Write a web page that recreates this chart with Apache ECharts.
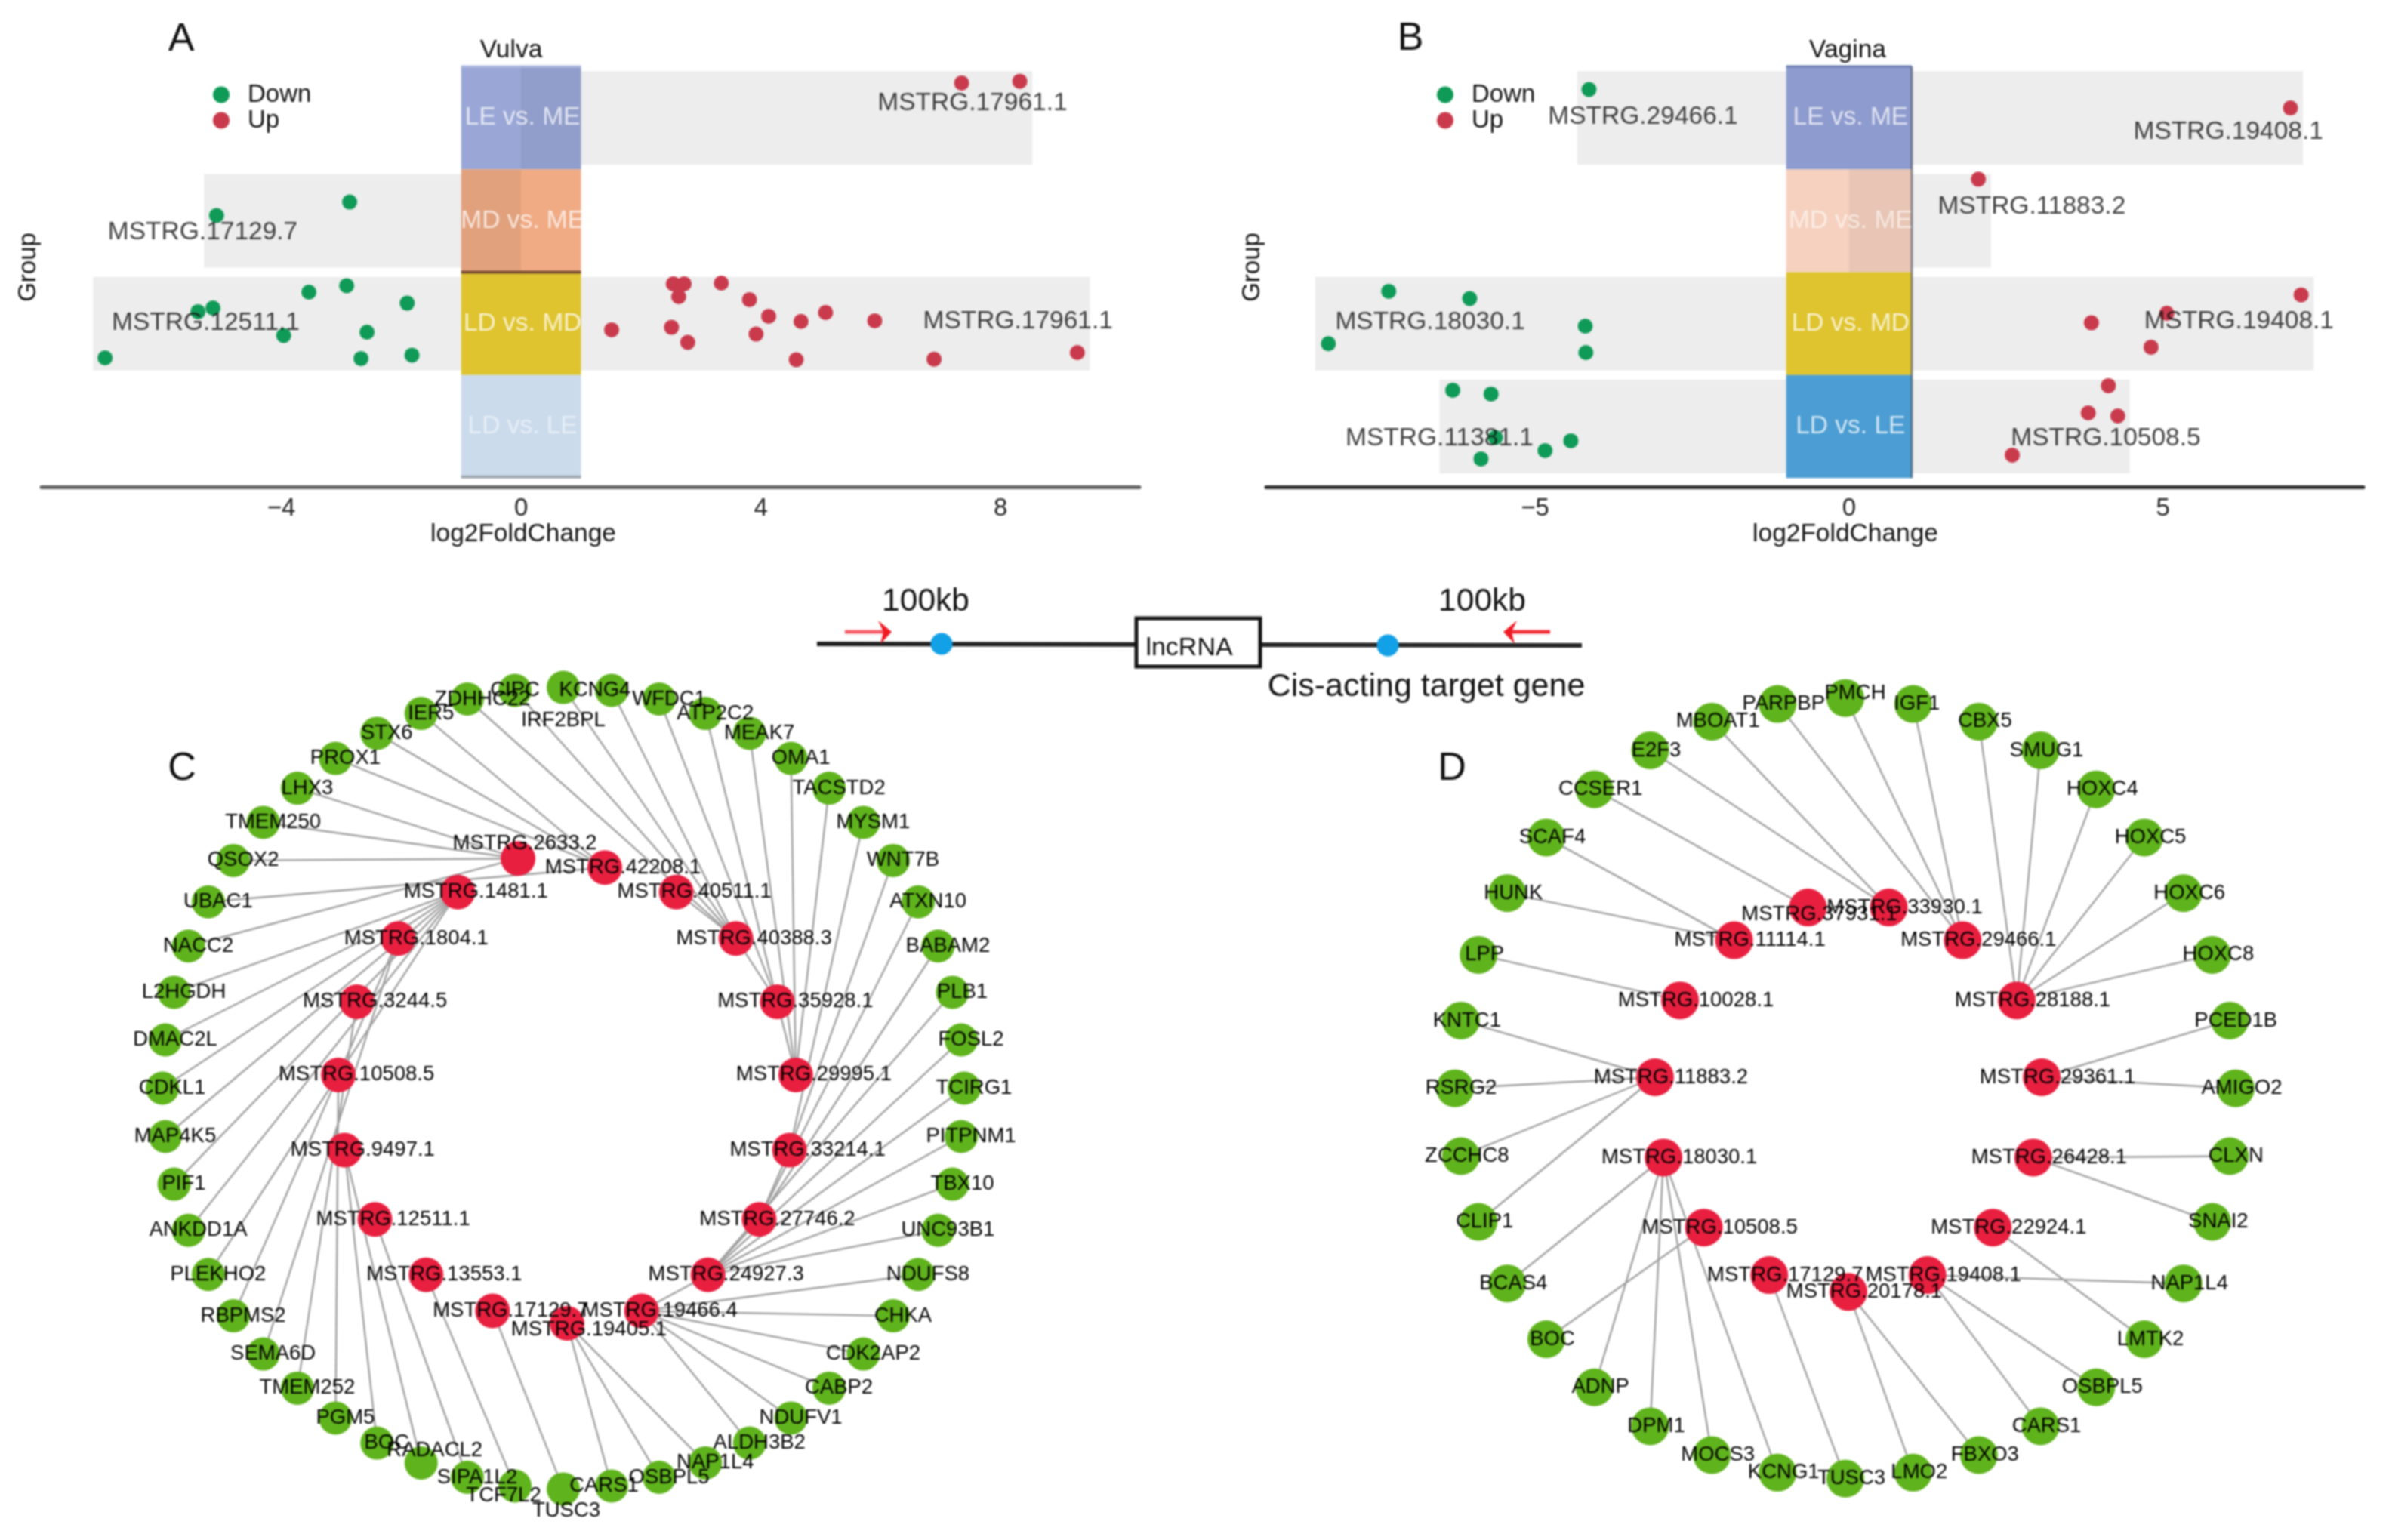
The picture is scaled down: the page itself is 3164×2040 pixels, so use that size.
<!DOCTYPE html>
<html><head><meta charset="utf-8">
<style>html,body{margin:0;padding:0;background:#fff}#c{width:3164px;height:2040px;filter:blur(0.9px)}</style>
<script src="https://cdn.jsdelivr.net/npm/echarts@6/dist/echarts.min.js"></script>
</head><body><div id="c"></div>
<script>
// ---------- volcano-style strip panels ----------
const groups = ['LE vs. ME','MD vs. ME','LD vs. MD','LD vs. LE'];
const bandLow = -1, bandHigh = 1;
// [log2FoldChange, jittered group position]
const vulvaDown = [[-5.08,.949],[-2.86,.818],[-6.94,2.332],[-5.39,1.884],[-5.14,1.848],[-3.96,2.116],[-3.54,1.694],[-2.91,1.631],[-2.57,2.083],[-2.67,2.339],[-1.90,1.801],[-1.82,2.306]];
const vulvaUp = [[7.35,-.339],[8.32,-.356],[1.51,2.06],[2.51,2.036],[2.54,1.613],[2.72,1.613],[2.63,1.738],[2.78,2.182],[3.34,1.606],[3.81,1.767],[3.92,2.102],[4.13,1.928],[4.59,2.351],[4.67,1.978],[5.08,1.892],[5.90,1.972],[6.89,2.345],[9.28,2.281]];
const vaginaDown = [[-4.14,-.276],[-7.33,1.686],[-6.04,1.756],[-4.20,2.024],[-8.29,2.195],[-4.19,2.281],[-6.31,2.647],[-5.70,2.684],[-5.63,3.106],[-4.43,3.139],[-4.84,3.234],[-5.86,3.315]];
const vaginaUp = [[7.03,-.096],[2.06,.596],[7.20,1.721],[5.06,1.899],[3.86,1.992],[4.81,2.229],[4.13,2.603],[3.81,2.868],[4.28,2.897],[2.60,3.278]];
// [low, high, row]
const vulvaRange = [[0,8.53,0],[-5.29,0,1],[-7.14,9.49,2]];
const vaginaRange = [[-4.33,7.23,0],[0,2.26,1],[-8.5,7.4,2],[-6.52,4.47,3]];
// [log2FoldChange, position, name]
const vulvaGenes = [[7.53,-.14,'MSTRG.17961.1'],[-5.31,1.115,'MSTRG.17129.7'],[-5.26,1.995,'MSTRG.12511.1'],[8.29,1.98,'MSTRG.17961.1']];
const vaginaGenes = [[-3.28,-.012,'MSTRG.29466.1'],[6.04,.137,'MSTRG.19408.1'],[2.91,.864,'MSTRG.11883.2'],[-6.67,1.986,'MSTRG.18030.1'],[6.21,1.978,'MSTRG.19408.1'],[-6.52,3.114,'MSTRG.11381.1'],[4.09,3.114,'MSTRG.10508.5']];
const vulvaBandColors = ['#9aa7d6','#f0ab85','#ecd032','#cbdbec'];
const vaginaBandColors = ['#97a4da','#f6d1bf','#ecd032','#50a7e0'];
const vulvaTextAlpha = [.9,.9,.95,.65];
const vaginaTextAlpha = [.9,.75,.95,.92];
const vulvaTicks = [-4,0,4,8];
const vaginaTicks = [-5,0,5];

// ---------- networks ----------
const cGenes = ['IRF2BPL','KCNG4','WFDC1','ATP2C2','MEAK7','OMA1','TACSTD2','MYSM1','WNT7B','ATXN10','BABAM2','PLB1','FOSL2','TCIRG1','PITPNM1','TBX10','UNC93B1','NDUFS8','CHKA','CDK2AP2','CABP2','NDUFV1','ALDH3B2','NAP1L4','OSBPL5','CARS1','TUSC3','TCF7L2','SIPA1L2','RADACL2','BOC','PGM5','TMEM252','SEMA6D','RBPMS2','PLEKHO2','ANKDD1A','PIF1','MAP4K5','CDKL1','DMAC2L','L2HGDH','NACC2','UBAC1','QSOX2','TMEM250','LHX3','PROX1','STX6','IER5','ZDHHC22','CIPC'];
const cLnc = ['MSTRG.19405.1','MSTRG.17129.7','MSTRG.13553.1','MSTRG.12511.1','MSTRG.9497.1','MSTRG.10508.5','MSTRG.3244.5','MSTRG.1804.1','MSTRG.1481.1','MSTRG.2633.2','MSTRG.42208.1','MSTRG.40511.1','MSTRG.40388.3','MSTRG.35928.1','MSTRG.29995.1','MSTRG.33214.1','MSTRG.27746.2','MSTRG.24927.3','MSTRG.19466.4'];
const cTargets = {
 'MSTRG.2633.2':['QSOX2','TMEM250','LHX3','NACC2'],
 'MSTRG.42208.1':['UBAC1','PROX1','STX6','IER5'],
 'MSTRG.40511.1':['MSTRG.40388.3'],
 'MSTRG.40388.3':['ZDHHC22','CIPC','IRF2BPL','KCNG4','MSTRG.35928.1'],
 'MSTRG.35928.1':['WFDC1','ATP2C2','MSTRG.29995.1'],
 'MSTRG.29995.1':['MEAK7','OMA1','TACSTD2'],
 'MSTRG.33214.1':['MYSM1','WNT7B','MSTRG.27746.2'],
 'MSTRG.27746.2':['ATXN10','BABAM2','MSTRG.24927.3'],
 'MSTRG.24927.3':['PLB1','FOSL2','TCIRG1','PITPNM1','TBX10','UNC93B1','MSTRG.19466.4'],
 'MSTRG.19466.4':['NDUFS8','CHKA','CDK2AP2','CABP2','NDUFV1','ALDH3B2'],
 'MSTRG.19405.1':['NAP1L4','OSBPL5','CARS1'],
 'MSTRG.17129.7':['TUSC3'],
 'MSTRG.13553.1':['TCF7L2'],
 'MSTRG.12511.1':['SIPA1L2'],
 'MSTRG.9497.1':['RADACL2','BOC'],
 'MSTRG.10508.5':['PGM5'],
 'MSTRG.3244.5':['TMEM252'],
 'MSTRG.1804.1':['RBPMS2','SEMA6D'],
 'MSTRG.1481.1':['L2HGDH','DMAC2L','CDKL1','MAP4K5','PIF1','ANKDD1A','PLEKHO2']
};
const dGenes = ['PMCH','IGF1','CBX5','SMUG1','HOXC4','HOXC5','HOXC6','HOXC8','PCED1B','AMIGO2','CLXN','SNAI2','NAP1L4','LMTK2','OSBPL5','CARS1','FBXO3','LMO2','TUSC3','KCNG1','MOCS3','DPM1','ADNP','BOC','BCAS4','CLIP1','ZCCHC8','RSRG2','KNTC1','LPP','HUNK','SCAF4','CCSER1','E2F3','MBOAT1','PARPBP'];
const dLnc = ['MSTRG.20178.1','MSTRG.17129.7','MSTRG.10508.5','MSTRG.18030.1','MSTRG.11883.2','MSTRG.10028.1','MSTRG.11114.1','MSTRG.37931.1','MSTRG.33930.1','MSTRG.29466.1','MSTRG.28188.1','MSTRG.29361.1','MSTRG.26428.1','MSTRG.22924.1','MSTRG.19408.1'];
const dTargets = {
 'MSTRG.29466.1':['PARPBP','PMCH','IGF1'],
 'MSTRG.33930.1':['MBOAT1','E2F3'],
 'MSTRG.37931.1':['CCSER1'],
 'MSTRG.11114.1':['SCAF4','HUNK'],
 'MSTRG.10028.1':['LPP'],
 'MSTRG.11883.2':['KNTC1','RSRG2','ZCCHC8','CLIP1'],
 'MSTRG.18030.1':['BCAS4','ADNP','DPM1','MOCS3','KCNG1'],
 'MSTRG.10508.5':['BOC'],
 'MSTRG.17129.7':['TUSC3'],
 'MSTRG.20178.1':['LMO2','FBXO3'],
 'MSTRG.19408.1':['CARS1','OSBPL5','NAP1L4'],
 'MSTRG.22924.1':['LMTK2'],
 'MSTRG.26428.1':['CLXN','SNAI2'],
 'MSTRG.29361.1':['AMIGO2','PCED1B'],
 'MSTRG.28188.1':['CBX5','SMUG1','HOXC4','HOXC5','HOXC6','HOXC8']
};

// ---------- styling / layout only ----------
const FONT = '"Liberation Sans", Arial, sans-serif';
const GREEN = '#0f9a57', RED = '#c93a4c', NODE_G = '#5fb31c', NODE_R = '#e81f3f';
const cLabelNudge = {IRF2BPL:[-13,44],TUSC3:[-9,29],KCNG4:[-35,0],RADACL2:[5,-16],TCF7L2:[-28,13],CARS1:[-23,0],ZDHHC22:[7,0],'MSTRG.2633.2':[-15,-20],'MSTRG.19405.1':[5,8],CIPC:[-13,0]};
const dLabelNudge = {PMCH:[5,-6],'MSTRG.37931.1':[-6,9],IGF1:[-3,0]};

function band(gridIndex, colors){
  return {type:'custom', xAxisIndex:gridIndex, yAxisIndex:gridIndex, z:1, silent:true, clip:false,
    data:groups.map((g,i)=>[bandLow,bandHigh,i]),
    renderItem(p,api){
      const a=api.coord([api.value(0),api.value(2)-.5]), b=api.coord([api.value(1),api.value(2)+.5]);
      return {type:'rect',shape:{x:a[0],y:a[1],width:b[0]-a[0],height:b[1]-a[1]},style:{fill:colors[p.dataIndex]}};
    }};
}
// grey row extent: thin row outside the central band, full row height over it
function range(gridIndex,data){
  return {type:'custom', xAxisIndex:gridIndex, yAxisIndex:gridIndex, z:2, silent:true, clip:false, data,
    renderItem(p,api){
      const lo=api.value(0), hi=api.value(1), row=api.value(2), kids=[];
      const add=(x0,x1,h,al)=>{ if(x1<=x0) return;
        const a=api.coord([x0,row-h]), b=api.coord([x1,row+h]);
        kids.push({type:'rect',shape:{x:a[0],y:a[1],width:b[0]-a[0],height:b[1]-a[1]},style:{fill:'rgba(0,0,0,'+al+')'}});};
      add(lo,Math.min(hi,bandLow),.455,.07);
      add(Math.max(lo,bandLow),Math.min(hi,bandHigh),.5,.055);
      add(Math.max(lo,bandHigh),hi,.455,.07);
      return {type:'group',children:kids};
    }};
}
// thin seams on the central band: [x0,y0,x1,y1,colour,width]
function seams(gridIndex,data){
  return {type:'custom', xAxisIndex:gridIndex, yAxisIndex:gridIndex, z:2, silent:true, clip:false, data:data.map((d,i)=>[d[0],d[1],d[2],d[3],i]),
    renderItem(p,api){
      const a=api.coord([api.value(0),api.value(1)]), b=api.coord([api.value(2),api.value(3)]), d=data[p.dataIndex];
      return {type:'line',shape:{x1:a[0],y1:a[1],x2:b[0],y2:b[1]},style:{stroke:d[4],lineWidth:d[5]}};
    }};
}
function dots(gridIndex,name,color,data){
  return {type:'scatter',name,xAxisIndex:gridIndex,yAxisIndex:gridIndex,z:3,silent:true,symbolSize:20,itemStyle:{color,opacity:1},data};
}
function texts(gridIndex,data,color,z){
  return {type:'scatter',xAxisIndex:gridIndex,yAxisIndex:gridIndex,z:z||4,silent:true,symbolSize:1,itemStyle:{color:'transparent'},data,
    label:{show:true,position:'inside',formatter:p=>p.value[2],color,fontFamily:FONT,fontSize:33.5}};
}
function bandTexts(gridIndex,alpha){
  return texts(gridIndex,groups.map((g,i)=>({value:[0,i,g],label:{color:'rgba(255,255,255,'+alpha[i]+')',offset:[2,0]}})),'#fff');
}
function ring(names,r,cx,cy,start,isLnc,nudge,size,offset){
  return names.map((name,i)=>{
    const t=(start+i*360/names.length)*Math.PI/180;
    const n=nudge[name]||[0,0];
    const pos=(name==='MSTRG.2633.2')?[-.028,.0226]:[0,0];
    return {name,value:[cx+r*Math.sin(t)+pos[0],cy+r*Math.cos(t)+pos[1]],symbolSize:size,
      itemStyle:{color:isLnc?NODE_R:NODE_G},
      label:{offset:[offset[0]+n[0],offset[1]+n[1]]}};
  });
}
function network(idx,genes,lnc,targets,inner,nudge,gs,ls,goff,loff){
  const nodes=ring(genes,1,0,0,0,false,nudge,gs,goff).concat(ring(lnc,inner.r,inner.cx,inner.cy,180,true,nudge,ls,loff));
  const links=[];
  Object.keys(targets).forEach(s=>targets[s].forEach(t=>links.push({source:s,target:t})));
  return {type:'graph',coordinateSystem:'cartesian2d',xAxisIndex:idx,yAxisIndex:idx,layout:'none',silent:true,z:5,
    data:nodes,links,edgeSymbol:['none','none'],roam:false,
    lineStyle:{color:'#a0a0a0',width:2.4,opacity:1,curveness:0},
    label:{show:true,position:'inside',color:'#000',fontFamily:FONT,fontSize:27.5},
    emphasis:{disabled:true}};
}
function txt(text,x,y,size,extra){
  return Object.assign({type:'text',x,y,z:20,style:{text,fill:'#111',font:size+'px '+FONT,textAlign:'center',textVerticalAlign:'middle',align:'center',verticalAlign:'middle'}},extra||{});
}
function legend(left,top){
  return {data:['Down','Up'],left,top,orient:'vertical',itemWidth:60,itemHeight:22,itemGap:1,icon:'circle',
    selectedMode:false,textStyle:{fontFamily:FONT,fontSize:33,lineHeight:33,color:'#111'}};
}
function stripAxes(ticks,min,max,pad,lineColor,gridIndex){
  return {gridIndex,type:'value',min,max,splitLine:{show:false},axisTick:{show:false},
    axisLine:{show:true,onZero:false,lineStyle:{color:lineColor,width:5}},
    axisLabel:{customValues:ticks,margin:12,color:'#222',fontFamily:FONT,fontSize:33,formatter:v=>String(v).replace('-','\u2212')},
    name:'log2FoldChange',nameLocation:'middle',nameGap:46,nameTextStyle:{color:'#111',fontFamily:FONT,fontSize:33.5,padding:pad}};
}
function rowAxis(gridIndex){
  return {gridIndex,type:'value',min:-.5,max:3.587,inverse:true,show:false};
}
function netAxes(gridIndex){
  return [{gridIndex,type:'value',min:-1.1,max:1.1,show:false},{gridIndex,type:'value',min:-1.1,max:1.1,show:false}];
}
const nA=netAxes(2), nB=netAxes(3);

const chart=echarts.init(document.getElementById('c'));
chart.setOption({
  animation:false,backgroundColor:'#fff',
  legend:[legend(277,104),legend(1898,104)],
  grid:[
    {left:55,top:88,width:1454,height:557},
    {left:1677,top:88,width:1453,height:557},
    {left:162,top:857.5,width:1168,height:1168},
    {left:1875.3,top:873,width:1137.4,height:1137.4}
  ],
  xAxis:[stripAxes(vulvaTicks,-8,10.315,[0,178,0,0],'#666',0),stripAxes(vaginaTicks,-9.28,8.19,[0,0,0,81],'#333',1),nA[0],nB[0]],
  yAxis:[rowAxis(0),rowAxis(1),nA[1],nB[1]],
  series:[
    band(0,vulvaBandColors),range(0,vulvaRange),
    seams(0,[[-1,1.5,1,1.5,'#7a5030',4],[-1,3.49,1,3.49,'#a0a8b0',4],[-1,-.5,1,-.5,'#b3bde2',3]]),
    dots(0,'Down',GREEN,vulvaDown),dots(0,'Up',RED,vulvaUp),
    texts(0,vulvaGenes,'#111'),bandTexts(0,vulvaTextAlpha),
    band(1,vaginaBandColors),range(1,vaginaRange),
    seams(1,[[1,-.5,1,3.5,'rgba(50,60,80,.55)',3],[-1,-.5,1,-.5,'#6f7fb0',3]]),
    dots(1,'Down',GREEN,vaginaDown),dots(1,'Up',RED,vaginaUp),
    texts(1,vaginaGenes,'#111'),bandTexts(1,vaginaTextAlpha),
    network(2,cGenes,cLnc,cTargets,{r:.5725,cx:.0094,cy:-.0141},cLabelNudge,44,46,[13,0],[24,0]),
    network(3,dGenes,dLnc,dTargets,{r:.498,cx:.0077,cy:-.0236},dLabelNudge,50,50,[8,0],[21,0])
  ],
  graphic:[
    txt('A',240,53,52),txt('B',1868,52,52),txt('C',241,1019,52),txt('D',1923,1019,52),
    txt('Vulva',677,67,33.5),txt('Vagina',2447,67,33.5),
    txt('Group',38,354,33,{rotation:Math.PI/2}),txt('Group',1659,354,33,{rotation:Math.PI/2}),
    // schematic of the cis-acting window
    {type:'line',z:10,shape:{x1:1082,y1:853,x2:2095,y2:855},style:{stroke:'#222',lineWidth:6}},
    {type:'rect',z:11,shape:{x:1505,y:819,width:164,height:64},style:{fill:'#fff',stroke:'#111',lineWidth:5}},
    {type:'circle',z:12,shape:{cx:1247,cy:853,r:14.5},style:{fill:'#12a0e6'}},
    {type:'circle',z:12,shape:{cx:1838,cy:855,r:14.5},style:{fill:'#12a0e6'}},
    {type:'line',z:12,shape:{x1:1119,y1:837,x2:1174,y2:837},style:{stroke:'#f4606a',lineWidth:5}},
    {type:'polygon',z:12,shape:{points:[[1163,822],[1181,837],[1166,853],[1170,837]]},style:{fill:'#ee1c25'}},
    {type:'line',z:12,shape:{x1:2053,y1:837,x2:1998,y2:837},style:{stroke:'#f0303a',lineWidth:5}},
    {type:'polygon',z:12,shape:{points:[[2009,822],[1991,837],[2006,853],[2002,837]]},style:{fill:'#ee1c25'}},
    txt('100kb',1226,797,42.5),txt('100kb',1963,797,42.5),
    txt('lncRNA',1575,859,34),
    txt('Cis-acting target gene',1889,910,43)
  ]
});
</script></body></html>
